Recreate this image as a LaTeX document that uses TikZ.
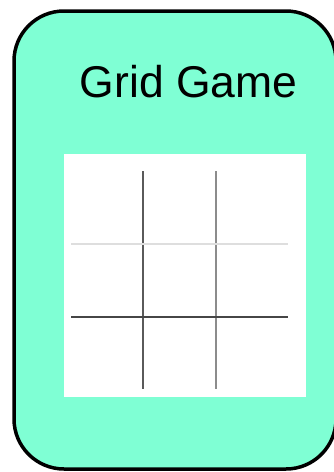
\documentclass[tikz,border=0pt]{standalone}
\usepackage{fontspec}
\setmainfont{Liberation Sans}
\definecolor{cardfill}{RGB}{127,255,212}
\definecolor{gA}{RGB}{90,90,90}
\definecolor{gB}{RGB}{140,140,140}
\definecolor{gC}{RGB}{222,222,222}
\definecolor{gD}{RGB}{70,70,70}
\begin{document}
\begin{tikzpicture}[x=1pt,y=-1pt,
  gridline/.style={line width=2pt}]
\useasboundingbox (0,0) rectangle (334,472);
\draw[fill=cardfill, line width=3.5pt, rounded corners=50pt] (14,11) rectangle (336,469);
\node[anchor=base, font=\fontsize{44.5}{50}\selectfont, inner sep=0pt] (title) at (188.5,97.5) {Grid Game};
\node[fill=white, minimum width=242pt, minimum height=243pt, inner sep=0pt] (board) at (185,275.5) {};
\draw[gridline, gA] (143,171) -- (143,389);
\draw[gridline, gB] (216,171) -- (216,389);
\draw[gridline, gC] (71,244) -- (288,244);
\draw[gridline, gD] (71,317) -- (288,317);
\end{tikzpicture}
\end{document}
